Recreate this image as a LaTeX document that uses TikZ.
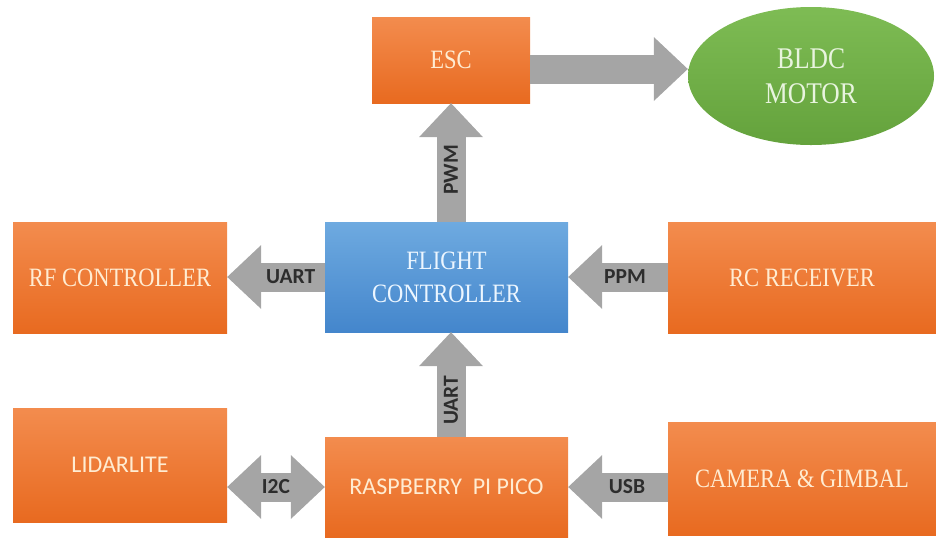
\documentclass[tikz,border=0pt]{standalone}
\usepackage{fontspec}
\setmainfont{Liberation Serif}
\newfontfamily\calib{Carlito}
\usetikzlibrary{arrows.meta}
\usetikzlibrary{shapes.geometric}
\definecolor{orangetop}{RGB}{243,140,78}
\definecolor{orangebot}{RGB}{232,106,32}
\definecolor{bluetop}{RGB}{110,170,224}
\definecolor{bluebot}{RGB}{68,134,204}
\definecolor{greentop}{RGB}{126,188,84}
\definecolor{greenbot}{RGB}{100,162,60}
\definecolor{arrowgrey}{RGB}{165,165,165}
\definecolor{labelgrey}{RGB}{45,45,45}
\definecolor{boxtext}{RGB}{255,236,210}
\newcommand*{\tipR}{Triangle[width=64pt,length=34pt,line width=0pt]}
\newcommand*{\squeeze}[1]{\scalebox{0.85}[1]{#1}}
\tikzset{
    orangebox/.style={rectangle, top color=orangetop, bottom color=orangebot, draw=none,
        text=boxtext, inner sep=0pt, align=center, font=\fontsize{26.5}{33}\selectfont},
    sansbox/.style={orangebox, font=\calib\fontsize{24}{30}\selectfont},
    bluebox/.style={orangebox, top color=bluetop, bottom color=bluebot, text={rgb,255:red,236;green,246;blue,255}},
    greyarrow/.style={draw=arrowgrey, line width=29pt, -{\tipR}},
    arrowlabel/.style={text=labelgrey, inner sep=0pt, font=\calib\bfseries\fontsize{21.5}{22}\selectfont},
}

\begin{document}
\begin{tikzpicture}[x=1pt,y=-1pt]
    \useasboundingbox (0,0) rectangle (936,547);
    % blocks
    \node [orangebox, minimum width=158pt, minimum height=86pt] (esc) at (451,60) {\squeeze{ESC}};
    \node [ellipse, top color=greentop, bottom color=greenbot, minimum width=246pt, minimum height=138pt, inner sep=0pt,
        text={rgb,255:red,232;green,244;blue,222}, align=center, font=\fontsize{30}{35}\selectfont] (motor) at (811,76) {\squeeze{BLDC}\\\squeeze{MOTOR}};
    \node [bluebox, minimum width=243pt, minimum height=110pt] (fc) at (446.5,277) {\squeeze{FLIGHT}\\\squeeze{CONTROLLER}};
    \node [orangebox, minimum width=214pt, minimum height=111pt] (rf) at (120,277.5) {\squeeze{RF CONTROLLER}};
    \node [orangebox, minimum width=268pt, minimum height=111pt] (rc) at (802,277.5) {\squeeze{RC RECEIVER}};
    \node [sansbox, minimum width=243pt, minimum height=100pt] (pico) at (446.5,487) {RASPBERRY\ \ PI PICO};
    \node [sansbox, minimum width=214pt, minimum height=114pt] (lidar) at (120,465) {LIDARLITE};
    \node [orangebox, minimum width=268pt, minimum height=113pt] (cam) at (802,478.5) {\squeeze{CAMERA \& GIMBAL}};
    % links
    \coordinate (escout) at ([yshift=-9pt]esc.east);
    \draw [greyarrow] (escout) -- (escout -| motor.west);
    \draw [greyarrow] (esc.south |- fc.north) -- node [arrowlabel, rotate=90, pos=0.44] {PWM} (esc.south);
    \draw [greyarrow] (fc.west) -- node [arrowlabel, pos=0.35] {UART} (fc.west -| rf.east);
    \draw [greyarrow] (rc.west |- fc.east) -- node [arrowlabel, pos=0.43] {PPM} (fc.east);
    \draw [greyarrow] (esc.south |- pico.north) -- node [arrowlabel, rotate=90, pos=0.35] {UART} (esc.south |- fc.south);
    \draw [greyarrow, {\tipR}-{\tipR}] (lidar.east |- pico.west) -- node [arrowlabel] {I2C} (pico.west);
    \draw [greyarrow] (cam.west |- pico.east) -- node [arrowlabel, pos=0.41] {USB} (pico.east);
\end{tikzpicture}
\end{document}
